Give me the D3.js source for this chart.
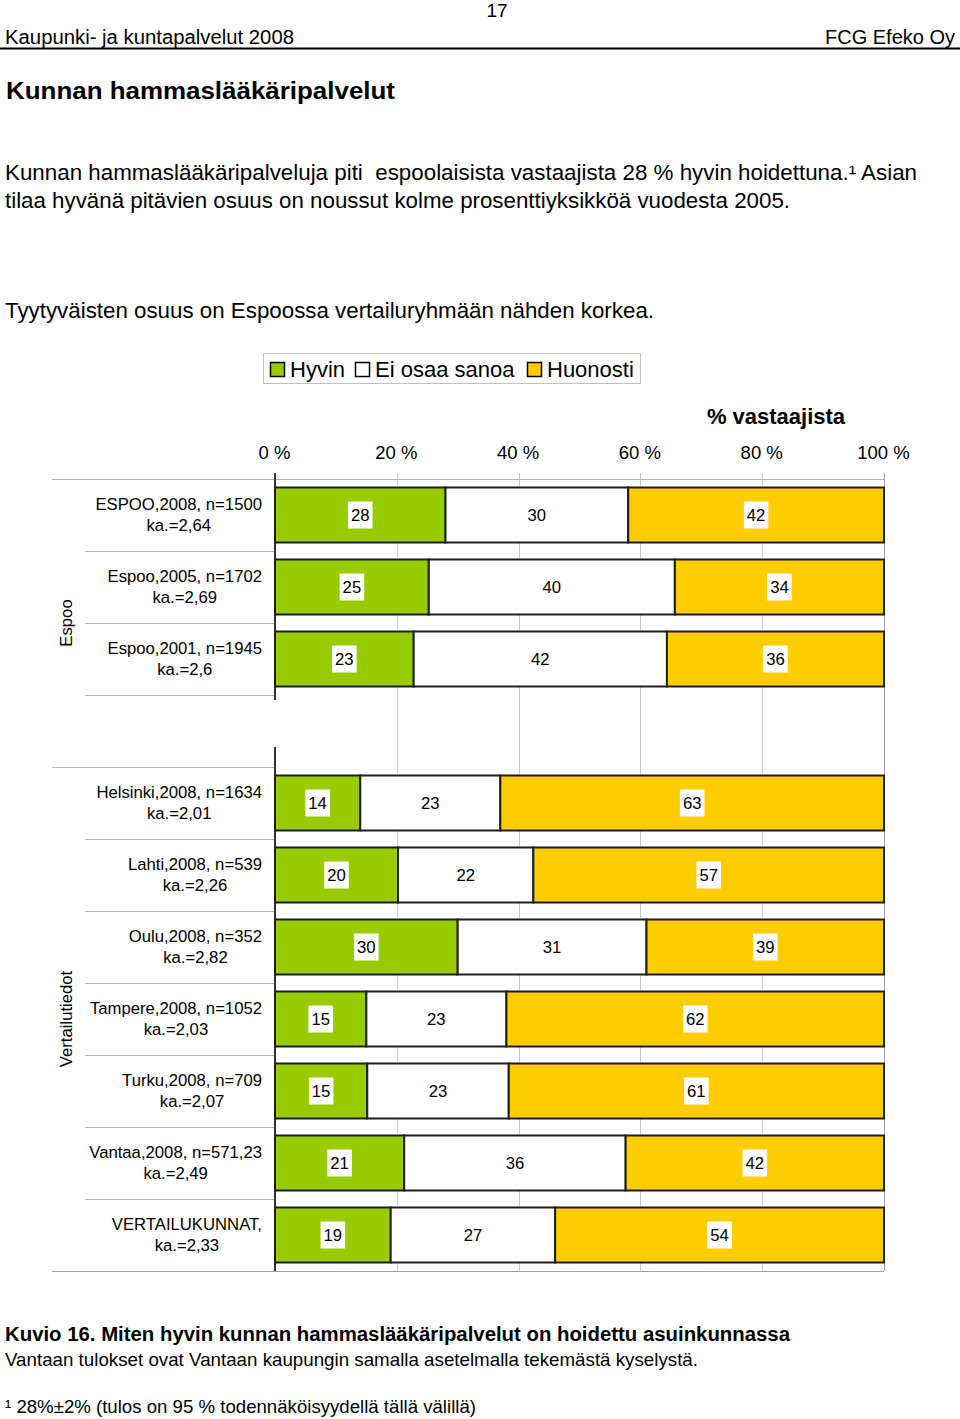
<!DOCTYPE html>
<html><head><meta charset="utf-8">
<script src="https://cdn.jsdelivr.net/npm/d3@7"></script>
<style>
body{margin:0;background:#fff;}
svg text{font-family:"Liberation Sans",Arial,sans-serif;fill:#000;white-space:pre;}
</style></head>
<body><svg id="c" width="960" height="1419"></svg>
<script>
// ---- data ----
const labels1 = ["ESPOO,2008, n=1500","Espoo,2005, n=1702","Espoo,2001, n=1945","Helsinki,2008, n=1634","Lahti,2008, n=539","Oulu,2008, n=352","Tampere,2008, n=1052","Turku,2008, n=709","Vantaa,2008, n=571,23","VERTAILUKUNNAT,"];
const labels2 = ["ka.=2,64","ka.=2,69","ka.=2,6","ka.=2,01","ka.=2,26","ka.=2,82","ka.=2,03","ka.=2,07","ka.=2,49","ka.=2,33"];
const groups = ["Espoo","Espoo","Espoo","Vertailutiedot","Vertailutiedot","Vertailutiedot","Vertailutiedot","Vertailutiedot","Vertailutiedot","Vertailutiedot"];
const hyvin    = [28,25,23,14,20,30,15,15,21,19];
const eiOsaa   = [30,40,42,23,22,31,23,23,36,27];
const huonosti = [42,34,36,63,57,39,62,61,42,54];
const seriesNames = ["Hyvin","Ei osaa sanoa","Huonosti"];
const seriesColors = ["#99cc00","#ffffff","#ffcc00"];
const ticks = [0,20,40,60,80,100];

(function(){
const svg = d3.select("#c");

function txt(x,y,s,size,opts={}){
  const t = svg.append("text").attr("x",x).attr("y",y).attr("font-size",size).text(s);
  if(opts.bold) t.attr("font-weight","bold");
  if(opts.anchor) t.attr("text-anchor",opts.anchor);
  if(opts.len) t.attr("textLength",opts.len).attr("lengthAdjust","spacingAndGlyphs");
  return t;
}
txt(497,17,"17",19,{anchor:"middle"});
txt(5,44,"Kaupunki- ja kuntapalvelut 2008",20,{len:289});
txt(955,44,"FCG Efeko Oy",20,{anchor:"end"});
svg.append("line").attr("x1",0).attr("x2",960).attr("y1",48.5).attr("y2",48.5).attr("stroke","#000").attr("stroke-width",2);
txt(6,99,"Kunnan hammaslääkäripalvelut",24,{bold:true,len:389});
txt(5,180,"Kunnan hammaslääkäripalveluja piti  espoolaisista vastaajista 28 % hyvin hoidettuna.¹ Asian",21.5,{len:912});
txt(5,208,"tilaa hyvänä pitävien osuus on noussut kolme prosenttiyksikköä vuodesta 2005.",21.5,{len:785});
txt(5,318,"Tyytyväisten osuus on Espoossa vertailuryhmään nähden korkea.",21.5,{len:649});
txt(5,1341,"Kuvio 16. Miten hyvin kunnan hammaslääkäripalvelut on hoidettu asuinkunnassa",20,{bold:true,len:785});
txt(5,1366,"Vantaan tulokset ovat Vantaan kaupungin samalla asetelmalla tekemästä kyselystä.",18.5,{len:693});
txt(5,1413,"¹ 28%±2% (tulos on 95 % todennäköisyydellä tällä välillä)",18.5,{len:471});

// legend
const lg = svg.append("g");
lg.append("rect").attr("x",263.5).attr("y",353.5).attr("width",377).attr("height",30).attr("fill","#fff").attr("stroke","#c0c0c0");
const legX = [270,355,527];
seriesNames.forEach((n,i)=>{
  lg.append("rect").attr("x",legX[i]+0.5).attr("y",362.5).attr("width",14).attr("height",14)
    .attr("fill",seriesColors[i]).attr("stroke","#000").attr("stroke-width",1.5);
  lg.append("text").attr("x",legX[i]+20).attr("y",377).attr("font-size",22).text(n);
});

// chart
const x = d3.scaleLinear().domain([0,100]).range([275,884]);
const keys = labels1.map((d,i)=>"r"+i);
const domain = [...keys.slice(0,3),"gap",...keys.slice(3)];
const pad = 17/72;
const plotTop = 479, plotBottom = 1271;
const y = d3.scaleBand().domain(domain).range([plotTop,plotBottom]).paddingInner(pad).paddingOuter(pad/2);
const step = y.step();

txt(776,424,"% vastaajista",22,{bold:true,anchor:"middle"});
const ax = svg.append("g").attr("transform","translate(0,459)")
  .call(d3.axisTop(x).tickValues(ticks).tickSize(0).tickFormat(d=>d+" %"));
ax.select(".domain").remove();
ax.selectAll("text").attr("font-size",18.5).attr("dy",0).attr("y",0).attr("x",-1)
  .style("font-family","'Liberation Sans',Arial,sans-serif").attr("fill","#000");

svg.append("g").selectAll("line").data(ticks.filter(t=>t>0)).join("line")
  .attr("x1",d=>Math.round(x(d))+0.5).attr("x2",d=>Math.round(x(d))+0.5)
  .attr("y1",473).attr("y2",plotBottom).attr("stroke",d=>d===100?"#a0a0a0":"#c8c8c8").attr("stroke-width",1);

const sepG = svg.append("g");
sepG.append("line").attr("x1",52).attr("x2",884).attr("y1",plotTop+0.5).attr("y2",plotTop+0.5).attr("stroke","#b0b0b0");
sepG.append("line").attr("x1",52).attr("x2",884).attr("y1",plotBottom+0.5).attr("y2",plotBottom+0.5).attr("stroke","#a0a0a0");
domain.slice(0,-1).forEach((k,i)=>{
  const yy = Math.round(plotTop + step*(i+1))+0.5;
  const full = (k==="gap");
  sepG.append("line").attr("x1",full?52:85).attr("x2",275).attr("y1",yy).attr("y2",yy).attr("stroke","#b8b8b8");
});

svg.append("line").attr("x1",275).attr("x2",275).attr("y1",473).attr("y2",700).attr("stroke","#333").attr("stroke-width",2);
svg.append("line").attr("x1",275).attr("x2",275).attr("y1",747).attr("y2",plotBottom).attr("stroke","#333").attr("stroke-width",2);

const rows = labels1.map((l,i)=>{
  const vals=[hyvin[i],eiOsaa[i],huonosti[i]];
  const tot=d3.sum(vals);
  let c=0;
  return {key:keys[i], segs: vals.map((v,j)=>{const s={v,j,x0:c/tot*100,x1:(c+v)/tot*100};c+=v;return s;})};
});
const barG = svg.append("g");
rows.forEach(r=>{
  const g = barG.append("g");
  g.selectAll("rect").data(r.segs).join("rect")
    .attr("x",d=>x(d.x0)).attr("width",d=>x(d.x1)-x(d.x0))
    .attr("y",y(r.key)).attr("height",y.bandwidth())
    .attr("fill",d=>seriesColors[d.j]).attr("stroke","#1e1e1e").attr("stroke-width",2);
  r.segs.forEach(d=>{
    const cx = (x(d.x0)+x(d.x1))/2, cy = y(r.key)+y.bandwidth()/2;
    const t = g.append("text").attr("x",cx).attr("y",cy).attr("dy","0.35em")
      .attr("text-anchor","middle").attr("font-size",16.7).text(d.v);
    if(d.j!==1){
      const w = t.node().getComputedTextLength();
      g.insert("rect",()=>t.node()).attr("x",cx-w/2-3).attr("y",cy-13.5).attr("width",w+6).attr("height",27).attr("fill","#fff");
    }
  });
});

const catG = svg.append("g");
labels1.forEach((l,i)=>{
  const cy = y(keys[i])+y.bandwidth()/2;
  const t1 = catG.append("text").attr("y",cy-5).attr("font-size",16.7).attr("text-anchor","middle").text(l);
  const t2 = catG.append("text").attr("y",cy+16).attr("font-size",16.7).attr("text-anchor","middle").text(labels2[i]);
  const w = Math.max(t1.node().getComputedTextLength(), t2.node().getComputedTextLength());
  const c = 262 - w/2;
  t1.attr("x",c); t2.attr("x",c);
});

const grpNames = Array.from(new Set(groups));
grpNames.forEach(gn=>{
  const idx = domain.map((k,i)=>i).filter(i=>{const k=domain[i]; if(k==="gap") return gn==="Espoo"; return groups[keys.indexOf(k)]===gn;});
  const y0 = plotTop + step*d3.min(idx), y1 = plotTop + step*(d3.max(idx)+1);
  const cy = (y0+y1)/2;
  svg.append("text").attr("transform",`translate(72,${cy}) rotate(-90)`).attr("text-anchor","middle")
    .attr("font-size",16.7).text(gn);
});
})();
</script></body></html>
